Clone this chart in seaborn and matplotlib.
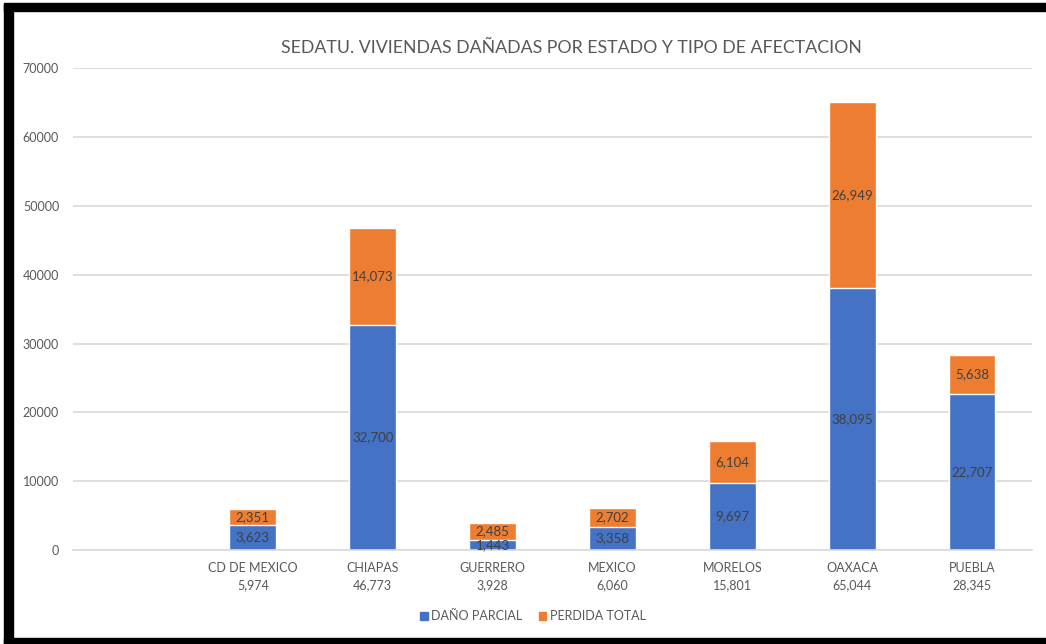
import numpy as np
import pandas as pd
import matplotlib
matplotlib.use("Agg")
import matplotlib.pyplot as plt
from matplotlib.patches import Rectangle, Patch
import seaborn as sns

# data
estados = ["CD DE MEXICO", "CHIAPAS", "GUERRERO", "MEXICO", "MORELOS", "OAXACA", "PUEBLA"]
dano_parcial = [3623, 32700, 1443, 3358, 9697, 38095, 22707]
perdida_total = [2351, 14073, 2485, 2702, 6104, 26949, 5638]

azul = "#4472C4"
naranja = "#ED7D31"
gris = "#595959"

df = pd.DataFrame({"Estado": estados, "Parcial": dano_parcial, "Perdida": perdida_total})
df["Total"] = df["Parcial"] + df["Perdida"]

sns.set_style("white")
plt.rcParams["font.family"] = ["Lato", "DejaVu Sans"]

fig = plt.figure(figsize=(10.46, 6.44), dpi=100)
ax = fig.add_axes([0.0698, 0.146, 0.9168, 0.748])

# first slot on the axis is empty in the original
orden = [" "] + estados
sns.barplot(data=df, x="Estado", y="Total", order=orden, color=naranja,
            width=0.39, saturation=1, ax=ax, errorbar=None)
sns.barplot(data=df, x="Estado", y="Parcial", order=orden, color=azul,
            width=0.39, saturation=1, ax=ax, errorbar=None)

# segment labels
for i, row in df.iterrows():
    pos = orden.index(row["Estado"])
    ax.text(pos, row["Parcial"] / 2, f"{row['Parcial']:,}", ha="center", va="center",
            fontsize=9.5, color="#404040")
    ax.text(pos, row["Parcial"] + row["Perdida"] / 2, f"{row['Perdida']:,}", ha="center",
            va="center", fontsize=9.5, color="#404040")

ax.set_xlim(-0.5, len(orden) - 0.5)
ax.set_ylim(0, 70000)
ax.set_yticks(np.arange(0, 70001, 10000))
ax.set_xticks(range(len(orden)))
etiquetas = [""] + [f"{e}\n{t:,}" for e, t in zip(df["Estado"], df["Total"])]
ax.set_xticklabels(etiquetas, linespacing=1.5)
ax.tick_params(axis="x", length=0, pad=9, labelsize=9, labelcolor=gris)
ax.tick_params(axis="y", length=0, pad=10, labelsize=9, labelcolor=gris)
ax.set_xlabel("")
ax.set_ylabel("")
ax.yaxis.grid(True, color="#D9D9D9", linewidth=1.2)
ax.set_axisbelow(True)
for lado in ["top", "right", "left"]:
    ax.spines[lado].set_visible(False)
ax.spines["bottom"].set_color("#D9D9D9")
ax.spines["bottom"].set_linewidth(1.2)

fig.text(571 / 1046, 1 - 48 / 644, "SEDATU. VIVIENDAS DAÑADAS POR ESTADO Y TIPO DE AFECTACION",
         ha="center", va="center", fontsize=12.8, color=gris)

handles = [Patch(color=azul, label="DAÑO PARCIAL"), Patch(color=naranja, label="PERDIDA TOTAL")]
fig.legend(handles=handles, loc="center", bbox_to_anchor=(533 / 1046, 1 - 616 / 644),
           ncol=2, frameon=False, fontsize=9, labelcolor=gris, handlelength=0.6,
           handleheight=0.6, handletextpad=0.3, columnspacing=1.3)

# black frame from the screenshot
W, H = 1046, 644
fig.patches.append(Rectangle((4 / W, 0), 9 / W, 1 - 4 / H, transform=fig.transFigure,
                             color="black", zorder=10))
fig.patches.append(Rectangle((4 / W, 1 - 11 / H), 1 - 4 / W, 8 / H, transform=fig.transFigure,
                             color="black", zorder=10))
fig.patches.append(Rectangle((4 / W, 0), 1 - 4 / W, 6 / H, transform=fig.transFigure,
                             color="black", zorder=10))

fig.savefig("out.png", dpi=100)
